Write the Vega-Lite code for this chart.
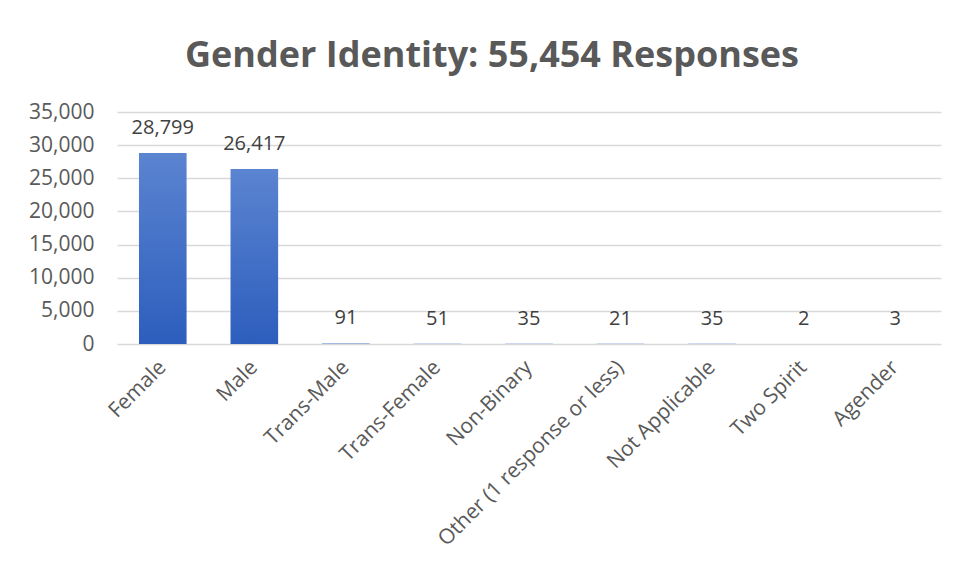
{
  "$schema": "https://vega.github.io/schema/vega-lite/v6.json",
  "width": 824,
  "height": 232,
  "autosize": {"type": "none"},
  "padding": {"left": 117, "top": 112, "right": 17, "bottom": 225},
  "background": "white",
  "title": {
    "text": "Gender Identity: 55,454 Responses",
    "font": "Open Sans",
    "fontSize": 36,
    "fontWeight": "bold",
    "color": "#595959",
    "anchor": "middle",
    "frame": "group",
    "offset": 26,
    "dx": -37
  },
  "data": {
    "values": [
      {"category": "Female", "count": 28799},
      {"category": "Male", "count": 26417},
      {"category": "Trans-Male", "count": 91},
      {"category": "Trans-Female", "count": 51},
      {"category": "Non-Binary", "count": 35},
      {"category": "Other (1 response or less)", "count": 21},
      {"category": "Not Applicable", "count": 35},
      {"category": "Two Spirit", "count": 2},
      {"category": "Agender", "count": 3}
    ]
  },
  "encoding": {
    "x": {
      "field": "category",
      "type": "nominal",
      "sort": null,
      "scale": {"paddingInner": 0.48, "paddingOuter": 0.24},
      "axis": {
        "title": null,
        "labelAngle": -45,
        "labelAlign": "right",
        "labelBaseline": "middle",
        "labelFont": "Open Sans",
        "labelFontSize": 21,
        "labelColor": "#595959",
        "labelPadding": 20,
        "ticks": false,
        "domain": false,
        "grid": false,
        "labelLimit": 400
      }
    },
    "y": {
      "field": "count",
      "type": "quantitative",
      "scale": {"domain": [0, 35000]},
      "axis": {
        "title": null,
        "values": [0, 5000, 10000, 15000, 20000, 25000, 30000, 35000],
        "format": ",d",
        "labelFont": "Open Sans",
        "labelFontSize": 21,
        "labelColor": "#595959",
        "labelPadding": 23,
        "ticks": false,
        "domain": false,
        "grid": true,
        "gridColor": "#d9d9d9",
        "gridWidth": 1.5
      }
    }
  },
  "layer": [
    {
      "mark": {
        "type": "bar",
        "color": {
          "gradient": "linear",
          "x1": 0, "y1": 0, "x2": 0, "y2": 1,
          "stops": [
            {"offset": 0, "color": "#5b84d1"},
            {"offset": 1, "color": "#2d5ebd"}
          ]
        }
      }
    },
    {
      "mark": {
        "type": "text",
        "font": "Open Sans",
        "fontSize": 20,
        "color": "#404040",
        "baseline": "middle",
        "dy": -25
      },
      "encoding": {
        "text": {"field": "count", "type": "quantitative", "format": ",d"}
      }
    }
  ],
  "config": {
    "view": {"stroke": null}
  }
}
